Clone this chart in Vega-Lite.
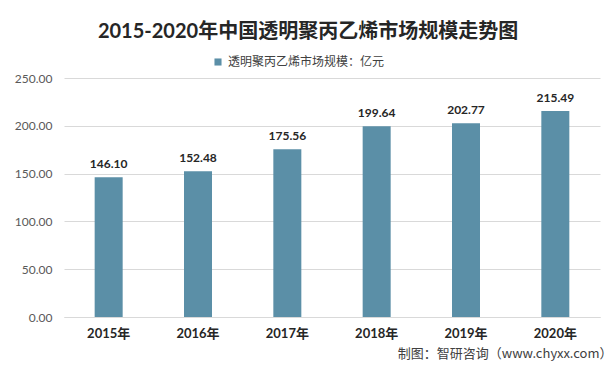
{
  "$schema": "https://vega.github.io/schema/vega-lite/v6.json",
  "autosize": {"type": "none"},
  "width": 536,
  "height": 239,
  "padding": {"left": 64, "top": 78, "right": 16, "bottom": 57},
  "background": "white",
  "title": {
    "text": "2015-2020年中国透明聚丙乙烯市场规模走势图",
    "anchor": "middle",
    "dx": -24,
    "offset": 14,
    "fontSize": 20,
    "fontWeight": "bold",
    "font": "Lato, Noto Sans CJK SC",
    "color": "#262626"
  },
  "data": {
    "values": [
      {"year": "2015年", "value": 146.10, "series": "透明聚丙乙烯市场规模：亿元"},
      {"year": "2016年", "value": 152.48, "series": "透明聚丙乙烯市场规模：亿元"},
      {"year": "2017年", "value": 175.56, "series": "透明聚丙乙烯市场规模：亿元"},
      {"year": "2018年", "value": 199.64, "series": "透明聚丙乙烯市场规模：亿元"},
      {"year": "2019年", "value": 202.77, "series": "透明聚丙乙烯市场规模：亿元"},
      {"year": "2020年", "value": 215.49, "series": "透明聚丙乙烯市场规模：亿元"}
    ]
  },
  "encoding": {
    "x": {
      "field": "year",
      "type": "nominal",
      "sort": null,
      "title": "制图：智研咨询（www.chyxx.com）",
      "axis": {
        "labelAngle": 0,
        "labelFont": "Lato, Noto Sans CJK SC",
        "labelFontSize": 13,
        "labelFontWeight": "bold",
        "labelColor": "#262626",
        "labelPadding": 10,
        "ticks": false,
        "domainColor": "#d9d9d9",
        "titleAnchor": "end",
        "titleAlign": "right",
        "titleX": 548,
        "titleFont": "Noto Sans CJK SC",
        "titleFontSize": 13,
        "titleFontWeight": "normal",
        "titleColor": "#404040",
        "titlePadding": 7
      }
    },
    "y": {
      "field": "value",
      "type": "quantitative",
      "scale": {"domain": [0, 250]},
      "title": null,
      "axis": {
        "values": [0, 50, 100, 150, 200, 250],
        "format": ".2f",
        "domain": false,
        "ticks": false,
        "gridColor": "#d9d9d9",
        "labelFont": "Lato, Noto Sans CJK SC",
        "labelFontSize": 12,
        "labelColor": "#595959",
        "labelPadding": 12
      }
    }
  },
  "layer": [
    {
      "mark": {"type": "bar", "size": 28, "color": "#5b8fa7"},
      "encoding": {
        "color": {
          "field": "series",
          "type": "nominal",
          "scale": {"range": ["#5b8fa7"]},
          "legend": {
            "title": null,
            "orient": "none",
            "legendX": 148,
            "legendY": -22,
            "symbolType": "square",
            "symbolSize": 50,
            "labelFont": "Noto Sans CJK SC",
            "labelFontSize": 12,
            "labelColor": "#404040"
          }
        }
      }
    },
    {
      "mark": {"type": "text", "dy": -13, "font": "Lato", "fontSize": 12, "fontWeight": "bold", "color": "#262626"},
      "encoding": {
        "text": {"field": "value", "type": "quantitative", "format": ".2f"}
      }
    }
  ],
  "config": {"view": {"stroke": null}}
}
